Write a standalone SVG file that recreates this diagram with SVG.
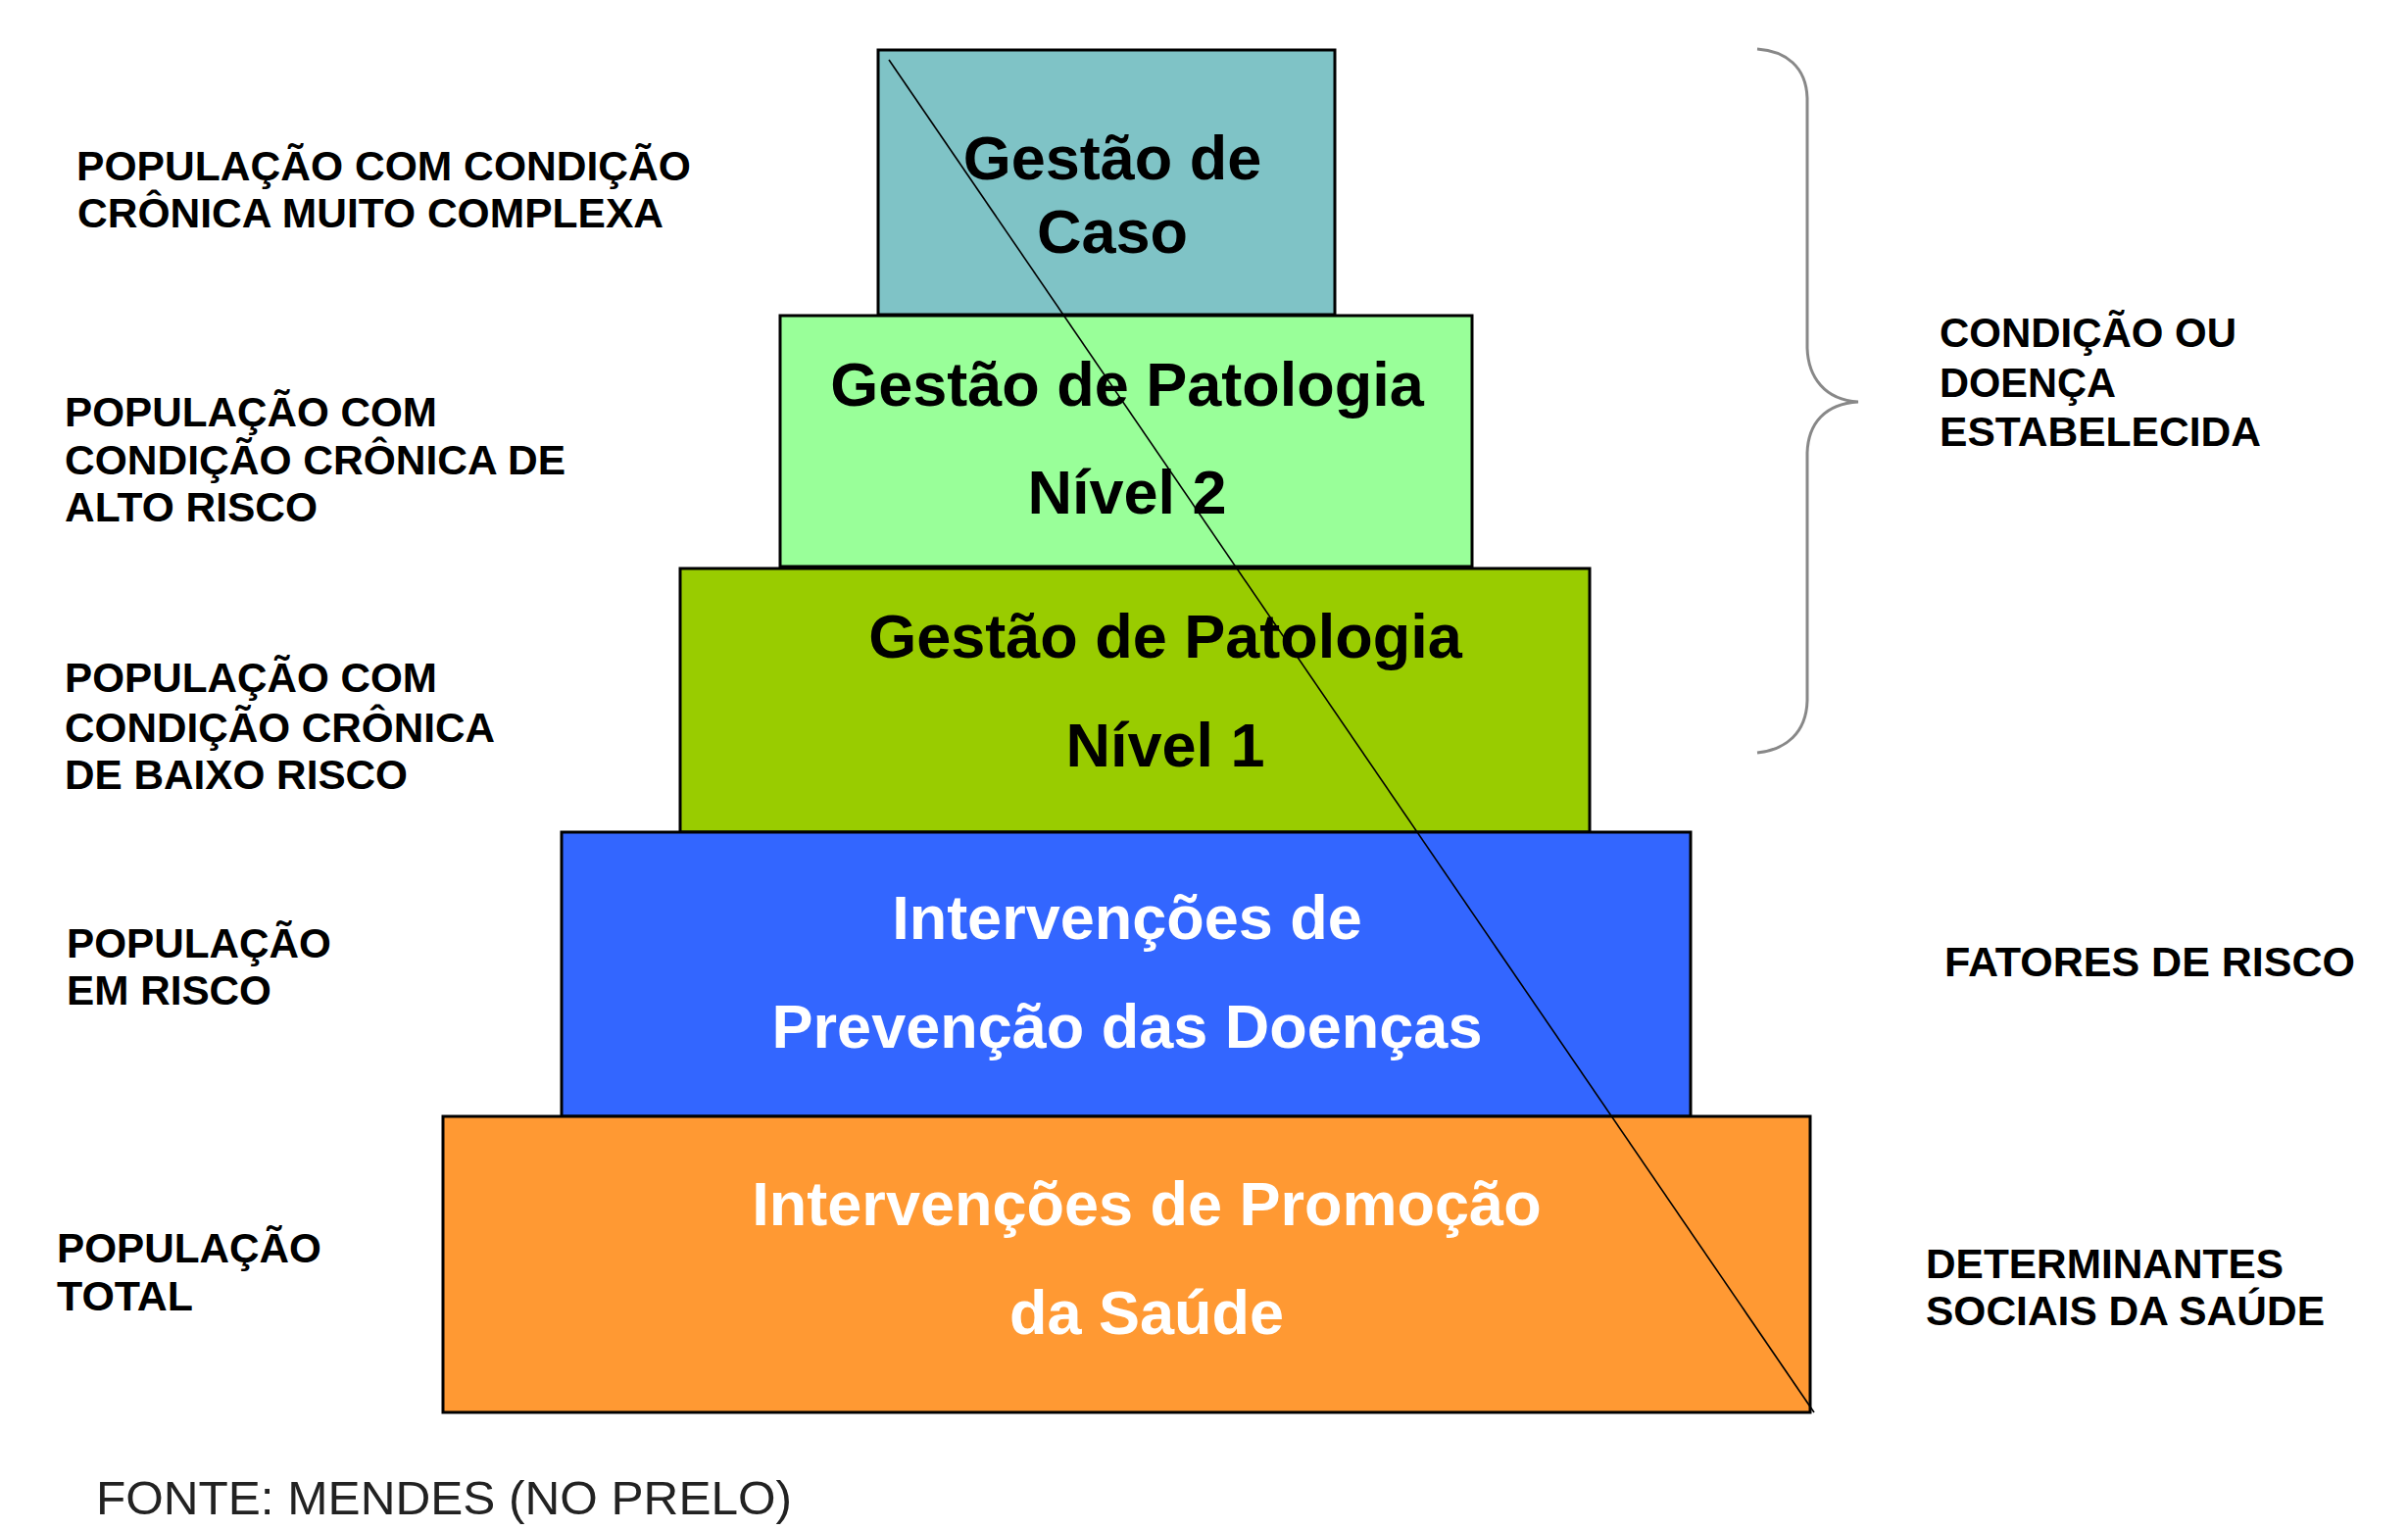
<svg xmlns="http://www.w3.org/2000/svg" width="2457" height="1561" viewBox="0 0 2457 1561">
<style>
.box{stroke:#000;stroke-width:3}
.bt{font-family:"Liberation Sans",Arial,sans-serif;font-weight:bold;font-size:63px;text-anchor:middle}
.lbl{font-family:"Liberation Sans",Arial,sans-serif;font-weight:bold;font-size:42px;fill:#000}
.src{font-family:"Liberation Sans",Arial,sans-serif;font-size:48px;fill:#222}
</style>
<rect width="2457" height="1561" fill="#fff"/>
<g id="node-caso">
<rect class="box" x="896" y="51" width="466" height="270" fill="#7FC3C6"/>
<text class="bt" x="1135" y="183" fill="#000">Gestão de</text>
<text class="bt" x="1135" y="258" fill="#000">Caso</text>
</g>
<g id="node-patologia2">
<rect class="box" x="796" y="322" width="706" height="256" fill="#99FF99"/>
<text class="bt" x="1150" y="414" fill="#000">Gestão de Patologia</text>
<text class="bt" x="1150" y="524" fill="#000">Nível 2</text>
</g>
<g id="node-patologia1">
<rect class="box" x="694" y="580" width="928" height="269" fill="#99CC00"/>
<text class="bt" x="1189" y="671" fill="#000">Gestão de Patologia</text>
<text class="bt" x="1189" y="782" fill="#000">Nível 1</text>
</g>
<g id="node-prevencao">
<rect class="box" x="573" y="849" width="1152" height="290" fill="#3366FF"/>
<text class="bt" x="1150" y="958" fill="#fff">Intervenções de</text>
<text class="bt" x="1150" y="1069" fill="#fff">Prevenção das Doenças</text>
</g>
<g id="node-promocao">
<rect class="box" x="452" y="1139" width="1395" height="302" fill="#FF9933"/>
<text class="bt" x="1170" y="1250" fill="#fff">Intervenções de Promoção</text>
<text class="bt" x="1170" y="1361" fill="#fff">da Saúde</text>
</g>
<g id="connectors">
<line x1="907" y1="61" x2="1851" y2="1441" stroke="#000" stroke-width="1.6"/>
<path d="M1793,50 C1822,52 1843,68 1844,100 L1844,355 C1845,385 1862,408 1896,410 C1862,412 1845,432 1844,462 L1844,715 C1843,748 1822,765 1793,768" fill="none" stroke="#888" stroke-width="3"/>
</g>
<g id="labels-left">
<text class="lbl" x="78" y="184" textLength="627" lengthAdjust="spacingAndGlyphs">POPULAÇÃO COM CONDIÇÃO</text>
<text class="lbl" x="79" y="232" textLength="598" lengthAdjust="spacingAndGlyphs">CRÔNICA MUITO COMPLEXA</text>
<text class="lbl" x="66" y="435" textLength="380" lengthAdjust="spacingAndGlyphs">POPULAÇÃO COM</text>
<text class="lbl" x="66" y="484" textLength="511" lengthAdjust="spacingAndGlyphs">CONDIÇÃO CRÔNICA DE</text>
<text class="lbl" x="66" y="532" textLength="258" lengthAdjust="spacingAndGlyphs">ALTO RISCO</text>
<text class="lbl" x="66" y="706" textLength="380" lengthAdjust="spacingAndGlyphs">POPULAÇÃO COM</text>
<text class="lbl" x="66" y="757" textLength="439" lengthAdjust="spacingAndGlyphs">CONDIÇÃO CRÔNICA</text>
<text class="lbl" x="66" y="805" textLength="350" lengthAdjust="spacingAndGlyphs">DE BAIXO RISCO</text>
<text class="lbl" x="68" y="977" textLength="270" lengthAdjust="spacingAndGlyphs">POPULAÇÃO</text>
<text class="lbl" x="68" y="1025" textLength="209" lengthAdjust="spacingAndGlyphs">EM RISCO</text>
<text class="lbl" x="58" y="1288" textLength="270" lengthAdjust="spacingAndGlyphs">POPULAÇÃO</text>
<text class="lbl" x="58" y="1337" textLength="139" lengthAdjust="spacingAndGlyphs">TOTAL</text>
</g>
<g id="labels-right">
<text class="lbl" x="1979" y="354" textLength="303" lengthAdjust="spacingAndGlyphs">CONDIÇÃO OU</text>
<text class="lbl" x="1979" y="405" textLength="180" lengthAdjust="spacingAndGlyphs">DOENÇA</text>
<text class="lbl" x="1979" y="455" textLength="328" lengthAdjust="spacingAndGlyphs">ESTABELECIDA</text>
<text class="lbl" x="1984" y="996" textLength="419" lengthAdjust="spacingAndGlyphs">FATORES DE RISCO</text>
<text class="lbl" x="1965" y="1304" textLength="365" lengthAdjust="spacingAndGlyphs">DETERMINANTES</text>
<text class="lbl" x="1965" y="1352" textLength="407" lengthAdjust="spacingAndGlyphs">SOCIAIS DA SAÚDE</text>
</g>
<text class="src" x="98" y="1545" textLength="710" lengthAdjust="spacingAndGlyphs">FONTE: MENDES (NO PRELO)</text>
</svg>
